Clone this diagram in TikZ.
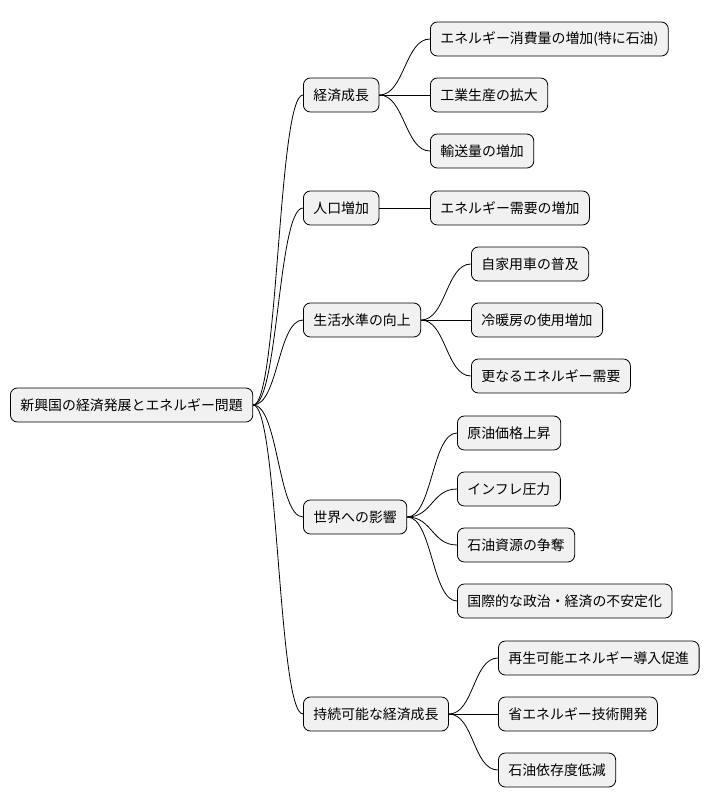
\documentclass[tikz,border=0pt]{standalone}
\usepackage{fontspec}
\setmainfont{Noto Sans CJK JP}
\begin{document}
\begin{tikzpicture}[x=1pt,y=-1pt,
  box/.style={draw=black,fill={rgb,255:red,241;green,241;blue,241},rounded corners=7pt,
    minimum height=34pt,inner xsep=10pt,anchor=west,font=\fontsize{13.9}{15}\selectfont,line width=0.8pt},
  conn/.style={line width=0.8pt}]
\useasboundingbox (0,0) rectangle (712,809);
\node[box] (r) at (10,405) {新興国の経済発展とエネルギー問題};
\node[box] (a) at (303,95) {経済成長};
\node[box] (a1) at (430,39) {エネルギー消費量の増加(特に石油)};
\node[box] (a2) at (430,95) {工業生産の拡大};
\node[box] (a3) at (430,151) {輸送量の増加};
\node[box] (b) at (303,208) {人口増加};
\node[box] (b1) at (430,208) {エネルギー需要の増加};
\node[box] (c) at (303,320) {生活水準の向上};
\node[box] (c1) at (471,264) {自家用車の普及};
\node[box] (c2) at (471,320) {冷暖房の使用増加};
\node[box] (c3) at (471,376) {更なるエネルギー需要};
\node[box] (d) at (303,517) {世界への影響};
\node[box] (d1) at (457,433) {原油価格上昇};
\node[box] (d2) at (457,489) {インフレ圧力};
\node[box] (d3) at (457,545) {石油資源の争奪};
\node[box] (d4) at (457,601) {国際的な政治・経済の不安定化};
\node[box] (e) at (303,714) {持続可能な経済成長};
\node[box] (e1) at (498,658) {再生可能エネルギー導入促進};
\node[box] (e2) at (498,714) {省エネルギー技術開発};
\node[box] (e3) at (498,770) {石油依存度低減};
\foreach \p/\c in {r/a,r/b,r/c,r/d,r/e,a/a1,a/a2,a/a3,b/b1,c/c1,c/c2,c/c3,d/d1,d/d2,d/d3,d/d4,e/e1,e/e2,e/e3}{
  \draw[conn] (\p.east) .. controls ([xshift=25pt]\p.east) and ([xshift=-25pt]\c.west) .. (\c.west);
}
\end{tikzpicture}
\end{document}
